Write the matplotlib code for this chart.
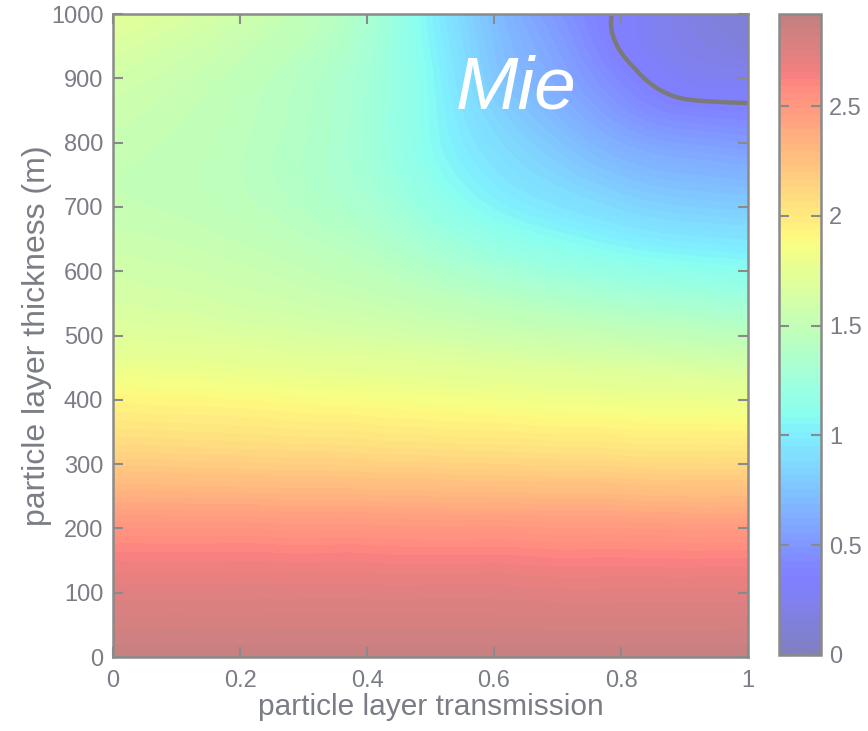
import numpy as np
import matplotlib
matplotlib.use("Agg")
import matplotlib.pyplot as plt
import matplotlib.tri as mtri
from matplotlib.colors import ListedColormap

# --- data -----------------------------------------------------------------
transmission = [0.0, 0.1, 0.2, 0.3, 0.4, 0.5, 0.6, 0.7, 0.8, 0.9, 1.0]
thickness = [0, 100, 200, 300, 400, 500, 600, 700, 800, 850, 900, 950, 1000]

# ratio values along each thickness row (columns follow `transmission`)
ratio_0m = [2.88, 2.88, 2.88, 2.88, 2.88, 2.88, 2.88, 2.88, 2.88, 2.88, 2.88]
ratio_100m = [2.74, 2.74, 2.74, 2.74, 2.74, 2.74, 2.74, 2.73, 2.73, 2.73, 2.73]
ratio_200m = [2.52, 2.52, 2.52, 2.51, 2.51, 2.50, 2.50, 2.49, 2.49, 2.48, 2.48]
ratio_300m = [2.18, 2.18, 2.17, 2.16, 2.15, 2.14, 2.13, 2.12, 2.11, 2.10, 2.10]
ratio_400m = [1.92, 1.91, 1.90, 1.88, 1.87, 1.85, 1.84, 1.82, 1.81, 1.80, 1.79]
ratio_500m = [1.70, 1.69, 1.67, 1.65, 1.63, 1.60, 1.57, 1.54, 1.51, 1.48, 1.45]
ratio_600m = [1.60, 1.58, 1.55, 1.51, 1.46, 1.38, 1.30, 1.23, 1.17, 1.13, 1.10]
ratio_700m = [1.52, 1.50, 1.46, 1.40, 1.32, 1.18, 1.04, 0.95, 0.87, 0.82, 0.80]
ratio_800m = [1.53, 1.50, 1.45, 1.38, 1.27, 1.08, 0.90, 0.76, 0.62, 0.55, 0.52]
ratio_850m = [1.56, 1.52, 1.46, 1.39, 1.27, 1.07, 0.84, 0.67, 0.50, 0.40, 0.38]
ratio_900m = [1.60, 1.55, 1.48, 1.40, 1.28, 1.06, 0.78, 0.60, 0.41, 0.28, 0.26]
ratio_950m = [1.66, 1.60, 1.53, 1.44, 1.30, 1.04, 0.75, 0.55, 0.34, 0.22, 0.15]
ratio_1000m = [1.72, 1.66, 1.58, 1.48, 1.32, 1.02, 0.72, 0.50, 0.33, 0.20, 0.12]

contour_level = 0.35
cbar_ticks = [0, 0.5, 1, 1.5, 2, 2.5]
cbar_ticklabels = ["0", "0.5", "1", "1.5", "2", "2.5"]
x_ticks = [0, 0.2, 0.4, 0.6, 0.8, 1]
x_ticklabels = ["0", "0.2", "0.4", "0.6", "0.8", "1"]
y_ticks = [0, 100, 200, 300, 400, 500, 600, 700, 800, 900, 1000]
vmin, vmax = 0.0, 2.92
label_text = "Mie"

plt.rcParams["font.family"] = ["Liberation Sans", "DejaVu Sans"]

text_gray = "#7b7d86"
frame_gray = "#8a8a8a"

# --- smooth field from the table (cubic triangle interpolation) -----------
Z = np.array([ratio_0m, ratio_100m, ratio_200m, ratio_300m, ratio_400m,
              ratio_500m, ratio_600m, ratio_700m, ratio_800m, ratio_850m,
              ratio_900m, ratio_950m, ratio_1000m])
tx, ty = np.meshgrid(np.array(transmission), np.array(thickness) / 1000.0)
tri = mtri.Triangulation(tx.ravel(), ty.ravel())
interp = mtri.CubicTriInterpolator(tri, Z.ravel(), kind="min_E")
xf = np.linspace(0, 1, 401)
yf = np.linspace(0, 1, 401)
XF, YF = np.meshgrid(xf, yf)
ZF = interp(XF, YF).filled(np.nan)

# washed-out jet colormap
base = plt.get_cmap("jet")(np.linspace(0, 1, 256))
cmap = ListedColormap(0.5 * base[:, :3] + 0.5)

fig = plt.figure(figsize=(8.68, 7.31), dpi=100)
ax = fig.add_axes([0.1302, 0.1012, 0.7316, 0.8796])
cax = fig.add_axes([0.8975, 0.1040, 0.0484, 0.8769])

levels = np.linspace(vmin, vmax, 90)
cf = ax.contourf(XF, YF * 1000.0, np.clip(ZF, vmin + 1e-6, vmax - 1e-6),
                 levels=levels, cmap=cmap, vmin=vmin, vmax=vmax)
cf.set_edgecolor("face")
cf.set_linewidth(0.6)
ax.contour(XF, YF * 1000.0, ZF, levels=[contour_level], colors="#7a7a7a",
           linewidths=3.2)

ax.set_xlim(0, 1)
ax.set_ylim(0, 1000)
ax.set_xticks(x_ticks)
ax.set_xticklabels(x_ticklabels)
ax.set_yticks(y_ticks)
ax.tick_params(direction="in", length=7, width=1.5, color=frame_gray,
               labelcolor=text_gray, labelsize=17, top=True, right=True)
ax.tick_params(axis="x", pad=9)
ax.tick_params(axis="y", pad=7)
for s in ax.spines.values():
    s.set_color(frame_gray)
    s.set_linewidth(1.8)
ax.set_xlabel("particle layer transmission", fontsize=21.5, color=text_gray,
              labelpad=1)
ax.set_ylabel("particle layer thickness (m)", fontsize=23, color=text_gray,
              labelpad=-1)

ax.text(0.635, 884, label_text, color="white", fontsize=54, style="italic",
        ha="center", va="center")

cb = fig.colorbar(cf, cax=cax, ticks=cbar_ticks)
cb.ax.set_yticklabels(cbar_ticklabels)
cb.ax.tick_params(direction="in", length=7, width=1.5, color=frame_gray,
                  labelcolor=text_gray, labelsize=17, left=True, right=True,
                  pad=6)
cb.outline.set_edgecolor(frame_gray)
cb.outline.set_linewidth(1.8)

fig.savefig("out.png", dpi=100, facecolor="white")
